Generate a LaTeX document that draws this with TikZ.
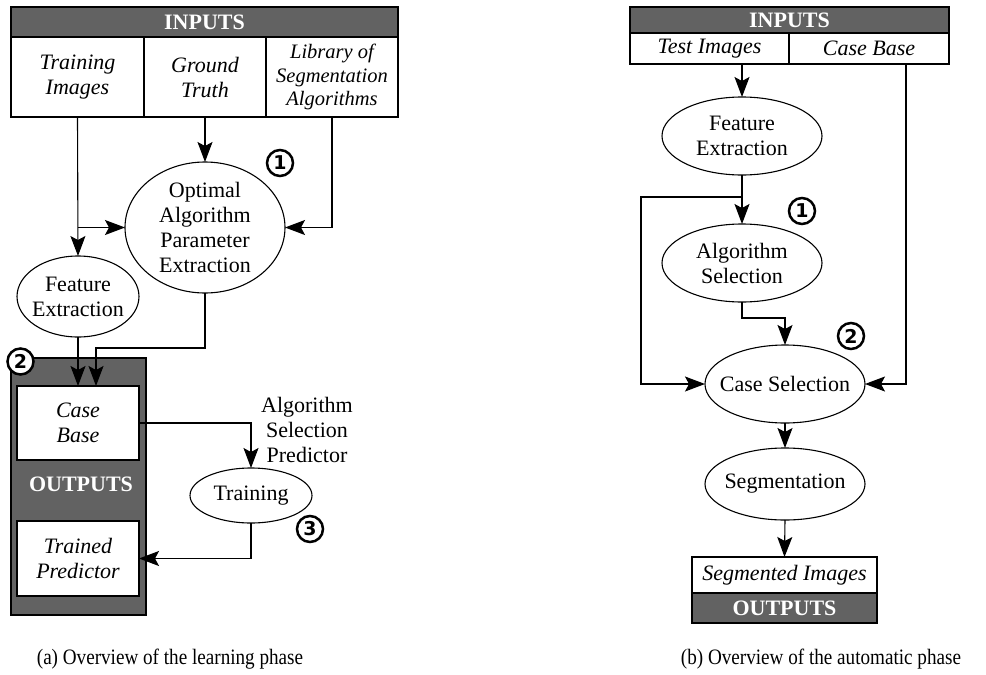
\documentclass[tikz,border=0pt]{standalone}
\usepackage{fontspec}
\setmainfont{Liberation Serif}
\newfontfamily\numfont{DejaVu Sans}
\usetikzlibrary{arrows.meta,shapes.geometric,calc}
\definecolor{panelgray}{RGB}{98,98,98}
\newcommand\dgfont{\fontsize{22}{25}\selectfont}

\begin{document}
\begin{tikzpicture}[x=1pt,y=-1pt,
  every node/.style={inner sep=0pt, outer sep=0pt},
  cell/.style={draw=black, line width=1.1pt, fill=white, rectangle, align=center, font=\dgfont\itshape},
  hdr/.style={draw=black, line width=1.1pt, fill=panelgray, rectangle, text=white, font=\dgfont\bfseries},
  ell/.style={draw=black, line width=1.1pt, fill=white, ellipse},
  lbl/.style={align=center, font=\dgfont},
  num/.style={draw=black, line width=2.5pt, circle, minimum size=26pt, fill=white, font=\numfont\bfseries\fontsize{19}{19}\selectfont},
  arr/.style={-{Stealth[length=20pt,width=15pt,inset=4pt]}, line width=1.1pt},
  capt/.style={font=\fontsize{22}{25}\selectfont}
]
\useasboundingbox (0,0) rectangle (986,675);

% ---------------- learning phase ----------------
\node[hdr, minimum width=387pt, minimum height=30pt] (inA) at (204.5,22) {INPUTS};
\node[cell, minimum width=133pt, minimum height=80pt] (ti) at (77.5,77) {Training\\Images};
\node[cell, minimum width=122pt, minimum height=80pt] (gt) at (205,77) {Ground\\Truth};
\node[cell, minimum width=132pt, minimum height=80pt, font=\fontsize{20.5}{23.3}\selectfont\itshape] (lib) at (332,77) {Library of\\Segmentation\\Algorithms};

\node[ell, minimum width=160pt, minimum height=131pt] (opt) at (205,227.5) {};
\node[lbl] (opt-t) at (opt.center) {Optimal\\Algorithm\\Parameter\\Extraction};
\node[ell, minimum width=122pt, minimum height=81pt] (fe) at (78,296.5) {};
\node[lbl] (fe-t) at (fe.center) {Feature\\Extraction};

\node[draw=black, line width=1.1pt, fill=panelgray, minimum width=135pt, minimum height=257pt] (outA) at (78.5,486.5) {};
\node[font=\dgfont\bfseries, text=white] (outA-t) at (81,484) {OUTPUTS};
\node[cell, minimum width=122pt, minimum height=74pt] (cb) at (78,423) {Case\\Base};
\node[cell, minimum width=122pt, minimum height=75pt] (tp) at (78,558.5) {Trained\\Predictor};

\node[ell, minimum width=122pt, minimum height=55pt] (tr) at (251,495.5) {};
\node[lbl] (tr-t) at (tr.center) {Training};
\node[lbl] (asp) at (307,430) {Algorithm\\Selection\\Predictor};

\node[num] (c1) at (280,163) {1};
\node[num] (c2) at (20.5,361.5) {2};
\node[num] (c3) at (310,529) {3};

\coordinate (tiB) at (ti.south |- opt.west);
\draw[arr] (ti.south) -- (fe.north);
\draw[arr] (tiB) -- (opt.west);
\draw[arr] (gt.south) -- (opt.north);
\draw[arr] (lib.south) |- (opt.east);
\draw[arr] (fe.south) -- (fe.south |- cb.north);
\draw[arr] (opt.south) -- ++(0,55) -| ([xshift=18pt]cb.north);
\draw[arr] (cb.east) -| (tr.north);
\draw[arr] (tr.south) |- (tp.east);

\node[capt] (capA) at (170,659) {\scalebox{0.87}[1]{(a) Overview of the learning phase}};

% ---------------- automatic phase ----------------
\node[hdr, minimum width=319pt, minimum height=26pt] (inB) at (789.5,20) {INPUTS};
\node[cell, minimum width=159pt, minimum height=31pt] (tst) at (709.5,48.5) {Test Images};
\node[cell, minimum width=160pt, minimum height=31pt] (cbB) at (869,48.5) {Case Base};

\node[ell, minimum width=160pt, minimum height=78pt] (fe2) at (742,136) {};
\node[lbl] (fe2-t) at (fe2.center) {Feature\\Extraction};
\node[ell, minimum width=160pt, minimum height=78pt] (as) at (742,263) {};
\node[lbl] (as-t) at (as.center) {Algorithm\\Selection};
\node[ell, minimum width=160pt, minimum height=78pt] (cs) at (785,384) {};
\node[lbl] (cs-t) at (cs.center) {Case Selection};
\node[ell, minimum width=160pt, minimum height=72pt] (seg) at (785,484) {};
\node[lbl] (seg-t) at (seg.center) {Segmentation};

\node[cell, minimum width=185pt, minimum height=36pt] (si) at (784.5,575) {Segmented Images};
\node[hdr, minimum width=185pt, minimum height=30pt] (outB) at (784.5,608) {OUTPUTS};

\node[num] (r1) at (802,211) {1};
\node[num] (r2) at (851,336) {2};

\coordinate (feB) at (742,197);
\coordinate (cbL) at (906,64);
\draw[arr] (fe2.north |- tst.south) -- (fe2.north);
\draw[arr] (fe2.south) -- (as.north);
\draw[arr] (feB) -- (641,197) |- (cs.west);
\draw[arr] (as.south) -- ++(0,16) -| (cs.north);
\draw[arr] (cbL) |- (cs.east);
\draw[arr] (cs.south) -- (seg.north);
\draw[arr] (seg.south) -- (si.north);

\node[capt] (capB) at (821,659) {\scalebox{0.87}[1]{(b) Overview of the automatic phase}};
\end{tikzpicture}
\end{document}
